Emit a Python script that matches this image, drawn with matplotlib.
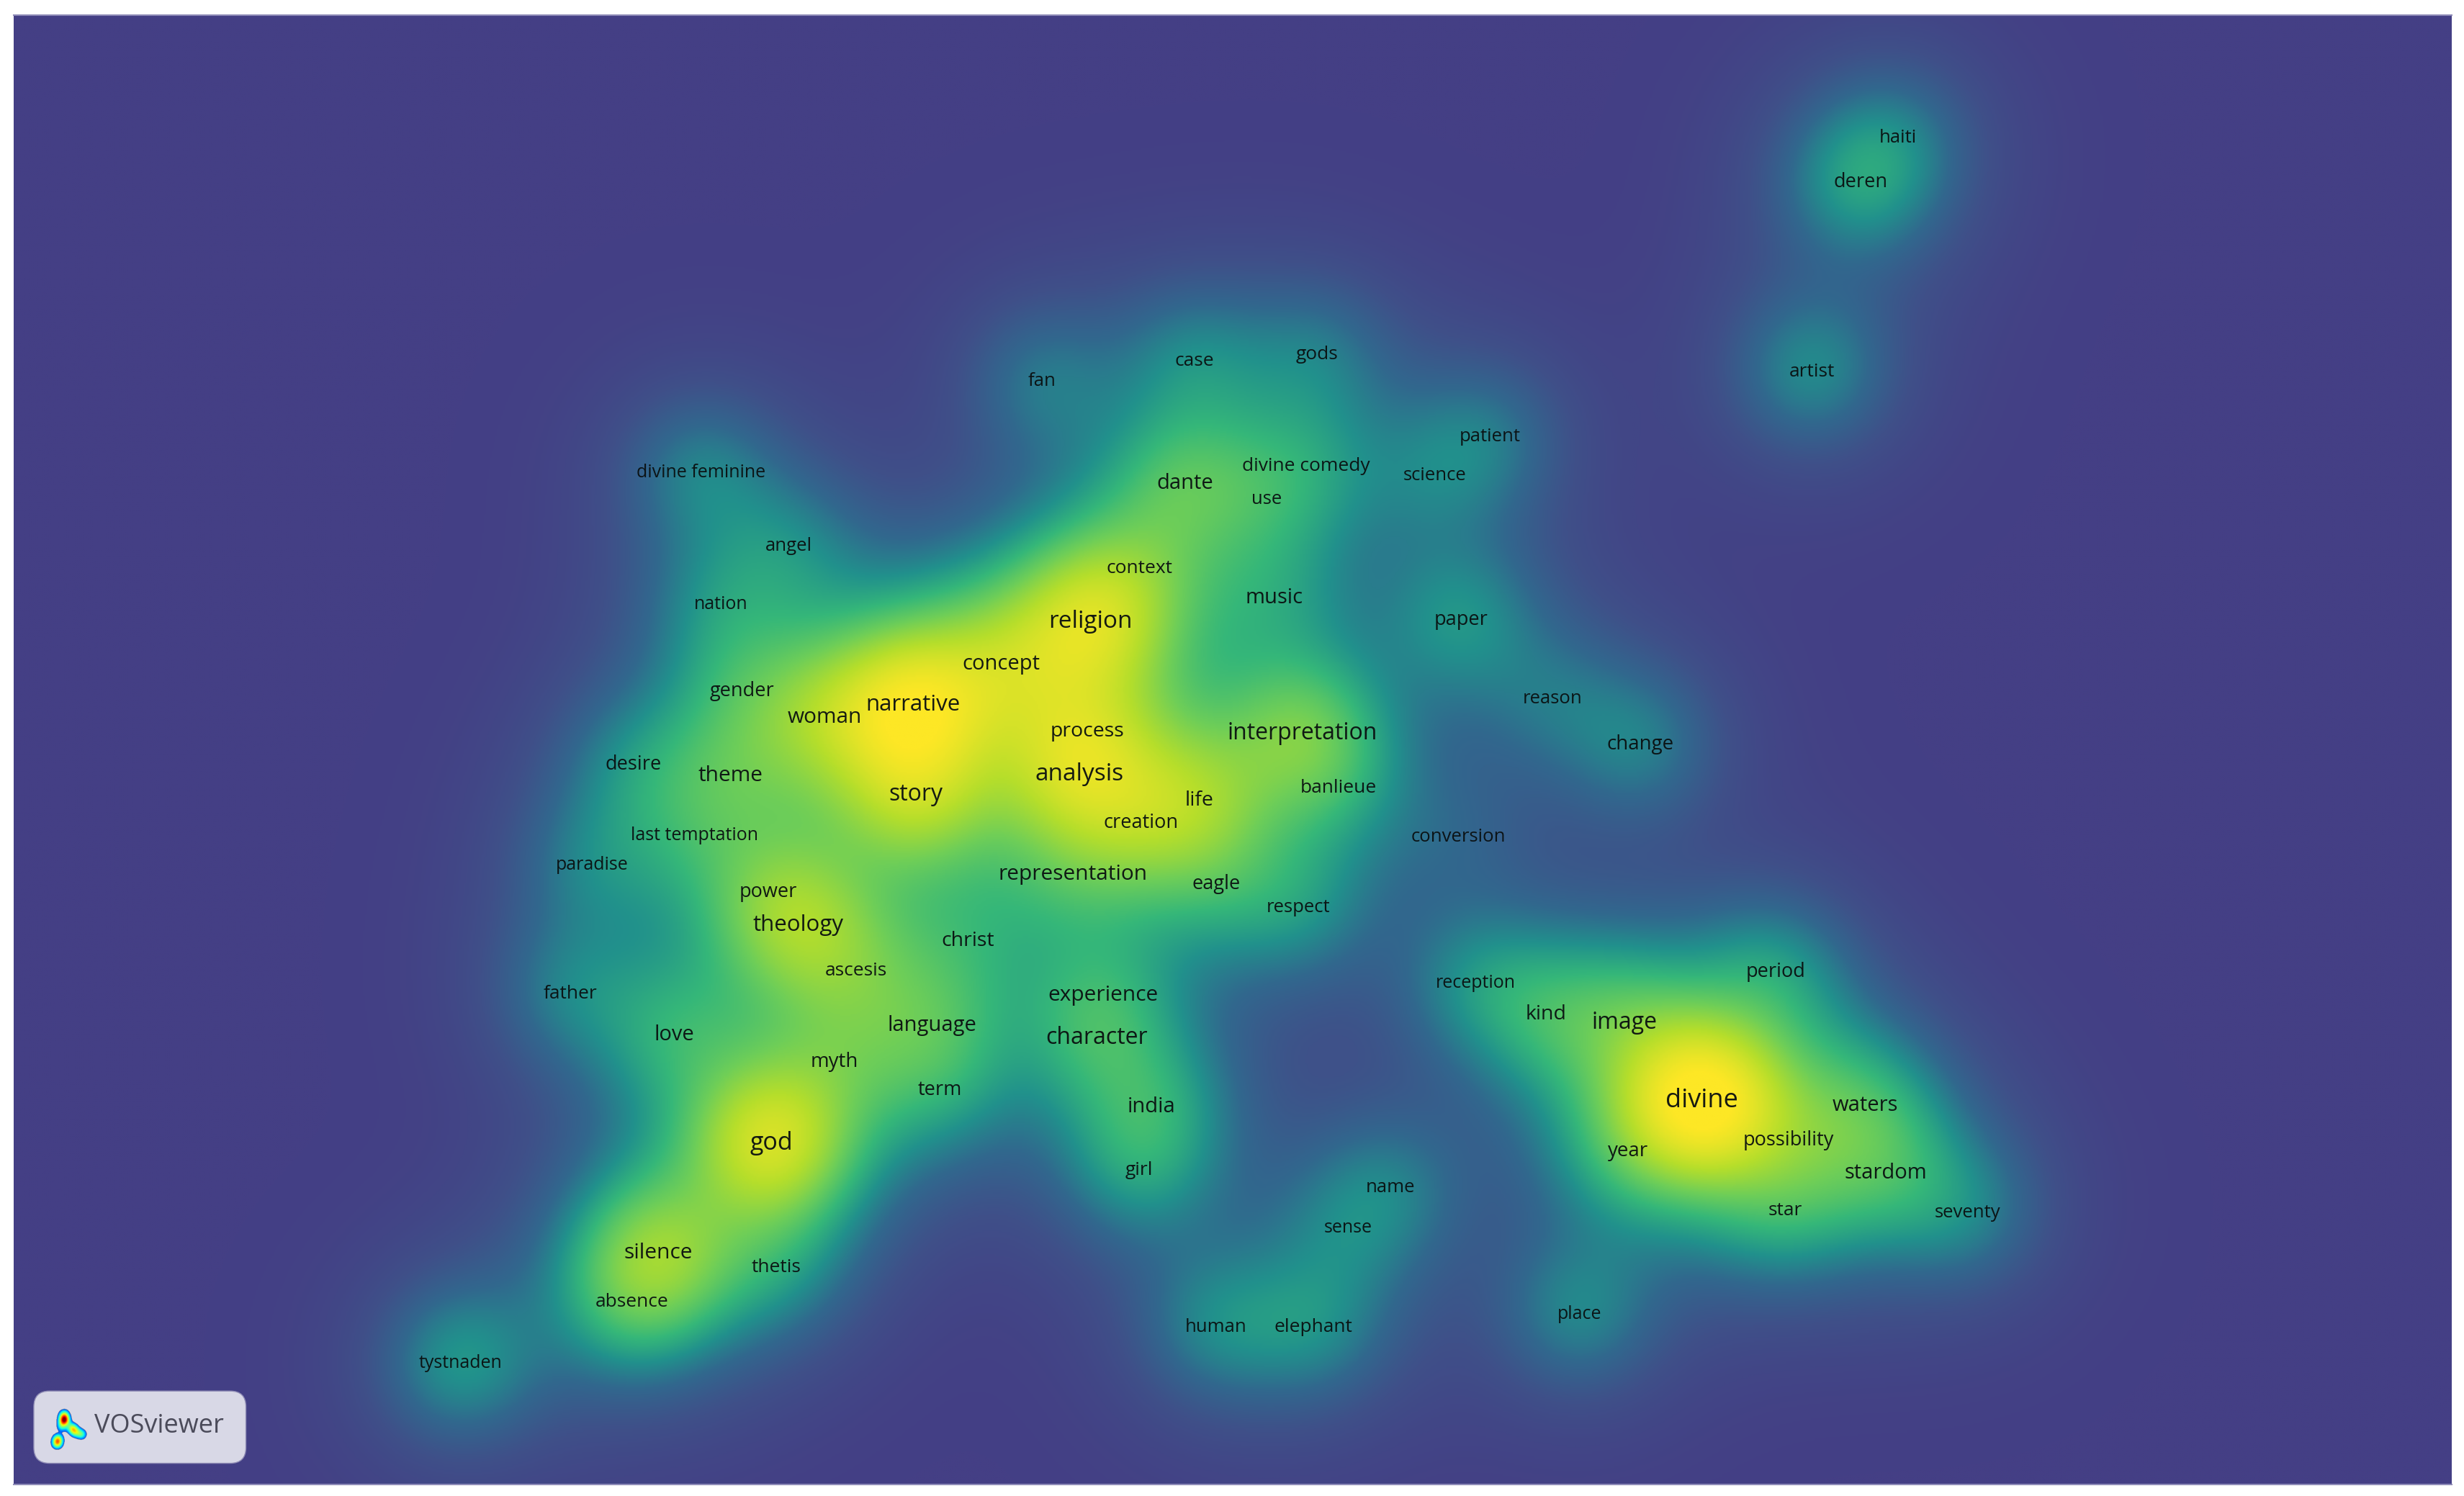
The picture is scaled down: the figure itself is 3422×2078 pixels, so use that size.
from matplotlib import pyplot as plt
from matplotlib.colors import LinearSegmentedColormap
from matplotlib.patches import FancyBboxPatch
import numpy as np

plt.rcParams['font.family'] = ['Open Sans', 'DejaVu Sans']

terms = ['haiti', 'deren', 'artist', 'gods', 'case', 'fan', 'patient', 'science', 'divine comedy', 'use',
         'dante', 'divine feminine', 'angel', 'nation', 'context', 'music', 'religion', 'paper', 'concept', 'gender',
         'reason', 'narrative', 'woman', 'process', 'interpretation', 'change', 'desire', 'theme', 'analysis', 'story',
         'banlieue', 'life', 'creation', 'last temptation', 'conversion', 'paradise', 'representation', 'eagle', 'power', 'respect',
         'theology', 'christ', 'ascesis', 'period', 'reception', 'father', 'experience', 'kind', 'image', 'language',
         'love', 'character', 'myth', 'term', 'divine', 'waters', 'india', 'possibility', 'god', 'year',
         'girl', 'stardom', 'name', 'star', 'seventy', 'sense', 'silence', 'thetis', 'absence', 'place',
         'human', 'elephant', 'tystnaden']
term_x = [1208, 1184, 1153, 838, 760, 663, 948, 913, 831, 806,
          754, 446, 502, 459, 725, 811, 694, 930, 637, 472,
          988, 581, 525, 692, 829, 1044, 403, 465, 687, 583,
          852, 763, 726, 442, 928, 377, 683, 774, 489, 826,
          508, 616, 545, 1130, 939, 363, 702, 984, 1034, 593,
          429, 698, 531, 598, 1083, 1187, 733, 1138, 491, 1036,
          725, 1200, 885, 1136, 1252, 858, 419, 494, 402, 1005,
          774, 836, 293]
term_y = [87, 115, 236, 225, 229, 242, 277, 302, 296, 317,
          307, 300, 347, 384, 361, 380, 395, 394, 422, 439,
          444, 448, 456, 465, 466, 473, 486, 493, 492, 505,
          501, 509, 523, 531, 532, 550, 556, 562, 567, 577,
          588, 598, 617, 618, 625, 632, 633, 645, 650, 652,
          658, 660, 675, 693, 700, 703, 704, 725, 727, 732,
          744, 746, 755, 770, 771, 781, 797, 806, 828, 836,
          844, 844, 867]
term_w = [0.5, 1.1, 1.0, 0.6, 0.7, 0.7, 0.6, 0.5, 0.6, 0.5,
          1.2, 0.8, 0.6, 0.6, 0.8, 0.6, 2.8, 0.9, 1.4, 0.6,
          0.5, 3.2, 1.4, 0.9, 1.7, 0.8, 0.6, 0.8, 2.0, 2.0,
          0.5, 1.5, 1.0, 0.5, 0.3, 0.6, 0.6, 0.5, 0.6, 0.7,
          1.8, 0.5, 0.8, 0.8, 0.7, 0.7, 0.6, 0.9, 0.9, 0.9,
          0.9, 0.8, 0.7, 0.6, 4.6, 0.9, 0.9, 0.6, 3.3, 0.7,
          0.8, 0.9, 0.6, 0.7, 0.7, 0.5, 2.0, 0.6, 1.0, 0.9,
          0.8, 0.8, 1.1]
# occurrence counts, the label size follows them
term_occ = [1, 3, 2, 2, 2, 1, 1, 1, 2, 1,
            6, 0, 1, 0, 2, 6, 12, 3, 6, 3,
            1, 9, 7, 5, 10, 4, 3, 7, 12, 10,
            2, 5, 3, 0, 1, 0, 7, 3, 3, 1,
            9, 5, 2, 3, 0, 2, 7, 5, 10, 6,
            6, 10, 4, 3, 16, 6, 6, 3, 13, 4,
            2, 6, 1, 2, 1, 0, 7, 2, 2, 0,
            1, 2, 0]

logo_x = [41.0, 41.0, 39.5, 37.0, 36.5, 46.0, 48.0, 52.0]
logo_y = [900.5, 904.0, 908.0, 916.0, 919.0, 909.0, 911.5, 913.0]
logo_w = [0.45, 0.95, 0.35, 0.55, 0.55, 0.5, 0.45, 0.4]

density_colors = ['#443f85', '#3f5089', '#31688e', '#21918c', '#35b779', '#6ece58', '#b5de2b', '#fde725']
density_cmap = LinearSegmentedColormap.from_list('density', density_colors)

fig = plt.figure(figsize=(34.22, 20.78), dpi=100)
axes = fig.add_axes([19 / 3422, 1 - 2062 / 2078, (3405 - 19) / 3422, (2062 - 21) / 2078])

xs = np.arange(8, 1562)
ys = np.arange(9, 947)
grid_x, grid_y = np.meshgrid(xs, ys)
density = np.zeros(grid_x.shape)
for x, y, w in zip(term_x, term_y, term_w):
    dist2 = (grid_x - x) ** 2 + (grid_y - y) ** 2
    density += w * (0.7 * np.exp(-dist2 / (2 * 33.0 ** 2)) + 0.3 * np.exp(-dist2 / (2 * 60.0 ** 2)))
# soft top so the yellow does not clip flat
density = np.clip((1 - np.exp(-density / 2.4)) / 0.88, 0, 1)

axes.imshow(density, cmap=density_cmap, vmin=0, vmax=1, extent=[7.5, 1561.5, 946.5, 8.5],
            interpolation='bilinear', aspect='auto')

for term, x, y, occ in zip(terms, term_x, term_y, term_occ):
    axes.text(x, y + 0.8, term, ha='center', va='center', color='#0a0f10', alpha=0.95,
              fontsize=18 + 0.5 * occ)

box = FancyBboxPatch((21.5, 885.5), 135, 46, boxstyle='round,pad=0,rounding_size=10', facecolor='#d8d8e6',
                     edgecolor='#8f8cb5', linewidth=1, mutation_aspect=1, zorder=3)
axes.add_patch(box)
axes.text(60, 908, 'VOSviewer', ha='left', va='center', fontsize=26, color='#4b4b5a', zorder=5)

lx = np.linspace(30, 60, 150)
ly = np.linspace(892, 926, 170)
logo_gx, logo_gy = np.meshgrid(lx, ly)
logo = np.zeros(logo_gx.shape)
for x, y, w in zip(logo_x, logo_y, logo_w):
    logo += w * np.exp(-((logo_gx - x) ** 2 + (logo_gy - y) ** 2) / (2 * 2.3 ** 2))
logo = np.ma.masked_less(logo, 0.15)
axes.imshow(logo, cmap='jet', vmin=-0.1, vmax=1.1, extent=[30, 60, 926, 892], aspect='auto', zorder=4,
            interpolation='bilinear')

axes.set_xlim(8.7, 1560.3)
axes.set_ylim(945, 9.6)
axes.set_xticks([])
axes.set_yticks([])
for side in ['left', 'right']:
    axes.spines[side].set_visible(False)
for side in ['top', 'bottom']:
    axes.spines[side].set_color('#8f8cb8')
    axes.spines[side].set_linewidth(1.5)

fig.savefig('out.png', dpi=100, facecolor='white')
